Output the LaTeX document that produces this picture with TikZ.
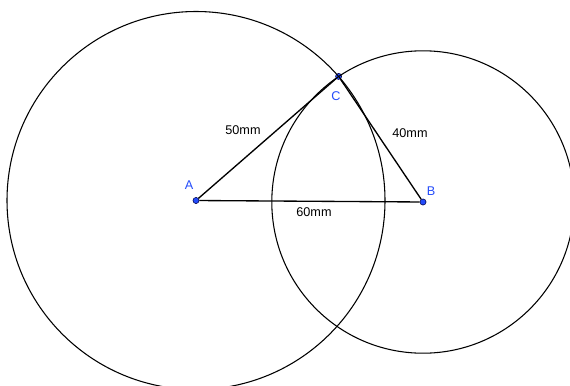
\documentclass[tikz,border=0pt]{standalone}
\usepackage{fontspec}
\setmainfont{Liberation Sans}
\definecolor{ptblue}{RGB}{35,75,250}
\begin{document}
\begin{tikzpicture}[x=0.75pt,y=-0.75pt,
  pt/.style={circle,draw=black!75!blue,fill=ptblue,inner sep=0pt,minimum size=4.6pt},
  lbl/.style={text=ptblue,font=\fontsize{9.5}{11}\selectfont},
  len/.style={font=\fontsize{9.5}{11}\selectfont}]
\useasboundingbox (0,0) rectangle (570,385);
\clip (0,0) rectangle (570,385);
\node[pt] (A) at (196,200.5) {};
\node[pt] (B) at (423,202) {};
\node[pt] (C) at (338.6,76.4) {};
\draw[line width=0.8pt] (A.center) circle[radius=141.75pt];
\draw[line width=0.8pt] (B.center) circle[radius=113.4pt];
\draw[line width=1pt] (A)--(B) (B)--(C) (C)--(A);
\node[lbl] (lA) at (189,185) {A};
\node[lbl] (lB) at (431,191) {B};
\node[lbl] (lC) at (336,96) {C};
\node[len] (ac) at (243,130) {50mm};
\node[len] (bc) at (410,133) {40mm};
\node[len] (ab) at (314,212) {60mm};
\end{tikzpicture}
\end{document}
